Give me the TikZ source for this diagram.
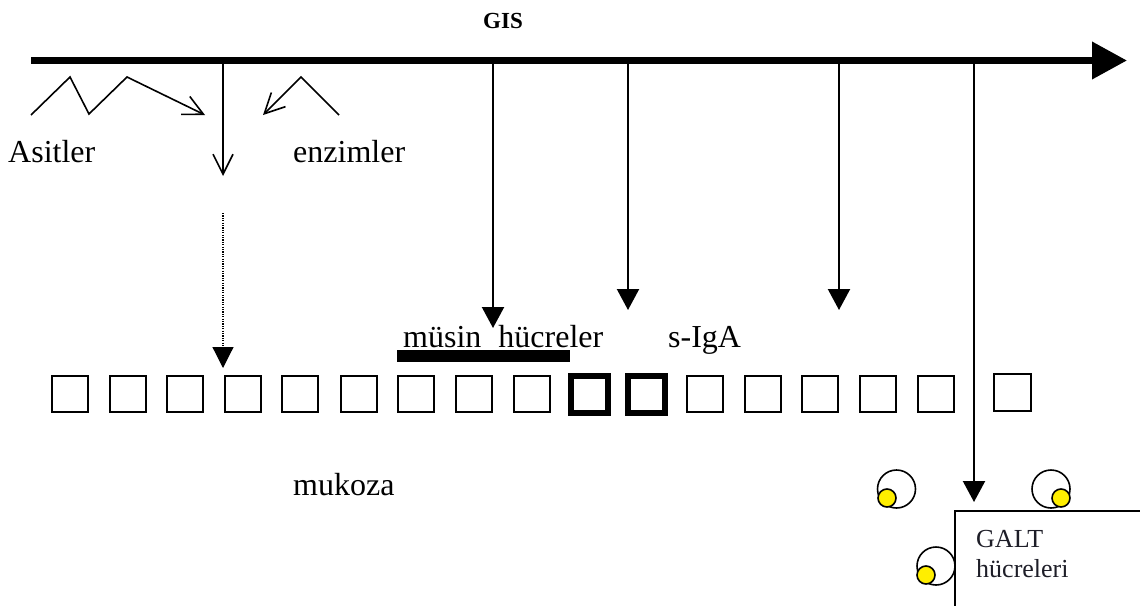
\documentclass[tikz,border=0pt]{standalone}
\usepackage{fontspec}
\setmainfont{Liberation Serif}
\usetikzlibrary{arrows.meta}
\definecolor{galtyellow}{RGB}{255,238,0}
\definecolor{galttext}{RGB}{30,30,40}
\begin{document}
\begin{tikzpicture}[x=1pt,y=-1pt,
  lbl/.style={font=\fontsize{32}{36}\selectfont, inner sep=0pt, anchor=base west},
  smalllbl/.style={font=\fontsize{26}{30}\selectfont, inner sep=0pt, anchor=base west, text=galttext},
  cell/.style={draw, line width=2pt, minimum size=36pt, inner sep=0pt},
  thickcell/.style={draw, line width=6pt, minimum size=37pt, inner sep=0pt},
  drop/.style={line width=2.2pt, -{Triangle[length=21pt,width=22pt]}},
  barb/.style={line width=1.6pt, -{Straight Barb[length=20pt,width=20pt]}},
  outercell/.style={draw, circle, line width=1.6pt, minimum size=38pt, inner sep=0pt},
  yellowcell/.style={draw, circle, fill=galtyellow, line width=1.6pt, minimum size=18pt, inner sep=0pt}]
\useasboundingbox (0,0) rectangle (1140,605);
\clip (0,0) rectangle (1140,605);
\fill[white] (0,0) rectangle (1140,605);

% main GIS arrow
\node[font=\fontsize{23}{26}\selectfont\bfseries, inner sep=0pt, anchor=base] (gis) at (503,28) {GIS};
\coordinate (m0) at (31,60.5);
\coordinate (m1) at (1127,60.5);
\draw[line width=7pt, -{Triangle[length=35pt,width=36pt]}] (m0) -- (m1);

% acids zigzag
\coordinate (a1) at (31,115);
\coordinate (a2) at (70,77);
\coordinate (a3) at (89,114);
\coordinate (a4) at (127,77);
\coordinate (a5) at (205,115);
\draw[barb] (a1) -- (a2) -- (a3) -- (a4) -- (a5);
% enzymes zigzag
\coordinate (e1) at (339,115);
\coordinate (e2) at (301,77);
\coordinate (e3) at (263,115);
\draw[barb] (e1) -- (e2) -- (e3);

\node[lbl] (asit) at (8,162) {Asitler};
\node[lbl] (enz) at (293,162) {enzimler};

% open arrow from main line
\coordinate (v0) at (223,60);
\coordinate (v1) at (223,176);
\draw[barb] (v0) -- (v1);
% dotted arrow
\coordinate (d0) at (223,213);
\coordinate (d1) at (223,368);
\draw[line width=1.2pt, dash pattern=on 1.2pt off 1.2pt, -{Triangle[length=21pt,width=21pt]}] (d0) -- (d1);

% downward arrows
\coordinate (p1) at (493,60);  \coordinate (q1) at (493,328);
\coordinate (p2) at (628,60);  \coordinate (q2) at (628,310);
\coordinate (p3) at (839,60);  \coordinate (q3) at (839,310);
\coordinate (p4) at (974,60);  \coordinate (q4) at (974,502);
\draw[drop] (p1) -- (q1);
\draw[drop] (p2) -- (q2);
\draw[drop] (p3) -- (q3);
\draw[drop] (p4) -- (q4);

% labels
\node[lbl] (musin) at (403,347) {müsin\hspace{17pt}hücreler};
\coordinate (u0) at (397,356);
\coordinate (u1) at (570,356);
\draw[line width=12pt] (u0) -- (u1);
\node[lbl] (siga) at (668,347) {s-IgA};
\node[lbl] (mukoza) at (293,495) {mukoza};

% mucosa cells
\foreach \i/\x in {1/70,2/127.5,3/185,4/242.5,5/300,6/358.5,7/416,8/473.5,9/531.5,12/705,13/762.5,14/820,15/877.5,16/935.5}
  \node[cell] (s\i) at (\x,394) {};
\node[thickcell] (s10) at (589.5,394) {};
\node[thickcell] (s11) at (646.5,394) {};
\node[cell, minimum size=37pt] (s17) at (1012.5,392) {};

% GALT box
\coordinate (g0) at (955,511);
\coordinate (g1) at (1160,630);
\draw[line width=2pt] (g0) rectangle (g1);
\node[smalllbl] (galt1) at (976,547) {GALT};
\node[smalllbl] (galt2) at (976,577) {hücreleri};

% lymphocytes
\node[outercell] (c1) at (896.5,489) {};
\node[yellowcell] (y1) at (887,498) {};
\node[outercell] (c2) at (1051,489) {};
\node[yellowcell] (y2) at (1061,498) {};
\node[outercell] (c3) at (936,566) {};
\node[yellowcell] (y3) at (926,575) {};
\end{tikzpicture}
\end{document}
